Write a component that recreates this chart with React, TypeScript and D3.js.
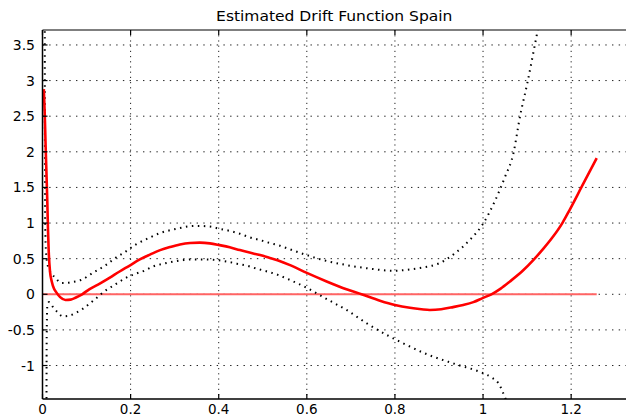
import React from "react";
import * as d3 from "d3";

const title = "Estimated Drift Function Spain";
const xTicks = [0, 0.2, 0.4, 0.6, 0.8, 1, 1.2];
const yTicks = [-1, -0.5, 0, 0.5, 1, 1.5, 2, 2.5, 3, 3.5];

const driftX = [0.003, 0.005, 0.007, 0.009, 0.011, 0.0125, 0.014, 0.017, 0.021, 0.026, 0.031, 0.04, 0.052, 0.064, 0.076, 0.09, 0.106, 0.13, 0.152, 0.175, 0.197, 0.221, 0.245, 0.267, 0.29, 0.312, 0.335, 0.357, 0.38, 0.402, 0.425, 0.448, 0.47, 0.494, 0.516, 0.535, 0.562, 0.6, 0.645, 0.69, 0.724, 0.766, 0.8, 0.834, 0.86, 0.879, 0.905, 0.932, 0.955, 0.978, 1.0, 1.019, 1.04, 1.061, 1.09, 1.114, 1.137, 1.159, 1.18, 1.197, 1.224, 1.258];
const driftY = [2.88, 2.55, 2.1, 1.7, 1.28, 0.9, 0.62, 0.32, 0.18, 0.08, 0.03, -0.04, -0.08, -0.075, -0.045, 0.0, 0.07, 0.15, 0.23, 0.32, 0.4, 0.49, 0.56, 0.62, 0.665, 0.7, 0.72, 0.725, 0.715, 0.69, 0.66, 0.62, 0.585, 0.55, 0.51, 0.475, 0.41, 0.3, 0.18, 0.07, 0.0, -0.09, -0.15, -0.19, -0.21, -0.22, -0.21, -0.18, -0.15, -0.11, -0.05, 0.0, 0.08, 0.18, 0.33, 0.48, 0.64, 0.81, 1.0, 1.19, 1.51, 1.91];

const upperX = [0.005, 0.0055, 0.006, 0.008, 0.012, 0.02, 0.031, 0.042, 0.055, 0.065, 0.087, 0.114, 0.144, 0.163, 0.189, 0.212, 0.221, 0.245, 0.267, 0.29, 0.312, 0.335, 0.354, 0.38, 0.402, 0.425, 0.448, 0.47, 0.494, 0.516, 0.535, 0.562, 0.6, 0.637, 0.69, 0.743, 0.796, 0.823, 0.857, 0.902, 0.933, 0.971, 0.999, 1.027, 1.05, 1.069, 1.084, 1.1, 1.122, 1.14];
const upperY = [4.2, 2.0, 1.0, 0.6, 0.4, 0.3, 0.22, 0.16, 0.16, 0.17, 0.2, 0.3, 0.41, 0.5, 0.6, 0.7, 0.73, 0.8, 0.86, 0.9, 0.93, 0.955, 0.96, 0.95, 0.92, 0.89, 0.85, 0.8, 0.76, 0.72, 0.69, 0.63, 0.55, 0.48, 0.41, 0.36, 0.33, 0.34, 0.37, 0.44, 0.56, 0.77, 0.98, 1.31, 1.65, 1.98, 2.5, 2.95, 3.64, 4.2];

const lowerX = [0.009, 0.0095, 0.011, 0.015, 0.025, 0.034, 0.046, 0.061, 0.076, 0.09, 0.103, 0.121, 0.14, 0.163, 0.186, 0.212, 0.231, 0.251, 0.275, 0.297, 0.32, 0.342, 0.37, 0.395, 0.418, 0.441, 0.465, 0.486, 0.51, 0.531, 0.562, 0.6, 0.649, 0.69, 0.739, 0.781, 0.816, 0.872, 0.937, 0.997, 1.02, 1.034, 1.052, 1.07];
const lowerY = [-1.8, -0.6, -0.15, -0.11, -0.19, -0.25, -0.31, -0.3, -0.26, -0.21, -0.15, -0.06, 0.04, 0.13, 0.22, 0.29, 0.33, 0.39, 0.43, 0.46, 0.48, 0.49, 0.49, 0.48, 0.46, 0.43, 0.4, 0.36, 0.32, 0.28, 0.2, 0.09, -0.08, -0.22, -0.42, -0.57, -0.68, -0.84, -0.98, -1.1, -1.17, -1.24, -1.48, -1.75];

const W = 626;
const H = 417;
const L = 42.5;
const R = 626;
const T = 30;
const B = 399;

export default function App() {
  const x = d3.scaleLinear().domain([0, 1.3245]).range([L, R]);
  const y = d3.scaleLinear().domain([-1.47, 3.71]).range([B, T]);

  const line = d3
    .line<[number, number]>()
    .x((d) => x(d[0]))
    .y((d) => y(d[1]))
    .curve(d3.curveMonotoneX);

  const zip = (a: number[], b: number[]) => a.map((v, i) => [v, b[i]] as [number, number]);
  const drift = zip(driftX, driftY);
  const upper = zip(upperX, upperY);
  const lower = zip(lowerX, lowerY);
  const font = "'DejaVu Sans', 'Liberation Sans', Arial, sans-serif";
  const cx = (L + R) / 2;

  return (
    <svg width={W} height={H} style={{ position: "absolute", left: 0, top: 0, background: "#fff" }}>
      <defs>
        <clipPath id="plot">
          <rect x={L} y={T} width={R - L} height={B - T} />
        </clipPath>
      </defs>
      <rect x={0} y={0} width={W} height={H} fill="#fff" />
      {xTicks.filter((t) => t !== 0).map((t) => (
        <line key={"gx" + t} x1={x(t)} x2={x(t)} y1={T} y2={B} stroke="#222" strokeWidth={1} strokeDasharray="1.2,4" />
      ))}
      {yTicks.map((t) => (
        <line key={"gy" + t} x1={L} x2={R} y1={y(t)} y2={y(t)} stroke="#222" strokeWidth={1} strokeDasharray="1.4,5.3" />
      ))}
      <g clipPath="url(#plot)">
        <line x1={x(0)} x2={x(driftX[driftX.length - 1])} y1={y(0)} y2={y(0)} stroke="#ff6464" strokeWidth={2} />
        <path d={line(upper) || ""} fill="none" stroke="#000" strokeWidth={2} strokeDasharray="1.5,4.5" />
        <path d={line(lower) || ""} fill="none" stroke="#000" strokeWidth={2} strokeDasharray="1.5,4.5" />
        <path d={line(drift) || ""} fill="none" stroke="#ff0000" strokeWidth={2.6} strokeLinejoin="round" />
      </g>
      <line x1={L} x2={R} y1={T} y2={T} stroke="#555" strokeWidth={1.5} />
      <line x1={L} x2={R} y1={B} y2={B} stroke="#000" strokeWidth={1.5} />
      <line x1={L} x2={L} y1={T} y2={B} stroke="#000" strokeWidth={1.5} />
      {xTicks.map((t) => (
        <g key={"tx" + t}>
          <line x1={x(t)} x2={x(t)} y1={B} y2={B - 5} stroke="#000" strokeWidth={1.2} />
          <line x1={x(t)} x2={x(t)} y1={T} y2={T + 5} stroke="#000" strokeWidth={1.2} />
          <text x={x(t)} y={B + 15} textAnchor="middle" fontFamily={font} fontSize={13.5} fill="#000">
            {String(t)}
          </text>
        </g>
      ))}
      {yTicks.map((t) => (
        <g key={"ty" + t}>
          <line x1={L} x2={L + 5} y1={y(t)} y2={y(t)} stroke="#000" strokeWidth={1.2} />
          <text x={35} y={y(t) + 5} textAnchor="end" fontFamily={font} fontSize={14} fill="#000">
            {String(t)}
          </text>
        </g>
      ))}
      <text transform={`translate(${cx},21) scale(1.15,1)`} textAnchor="middle" fontFamily={font} fontSize={13.5} fill="#000">
        {title}
      </text>
    </svg>
  );
}
